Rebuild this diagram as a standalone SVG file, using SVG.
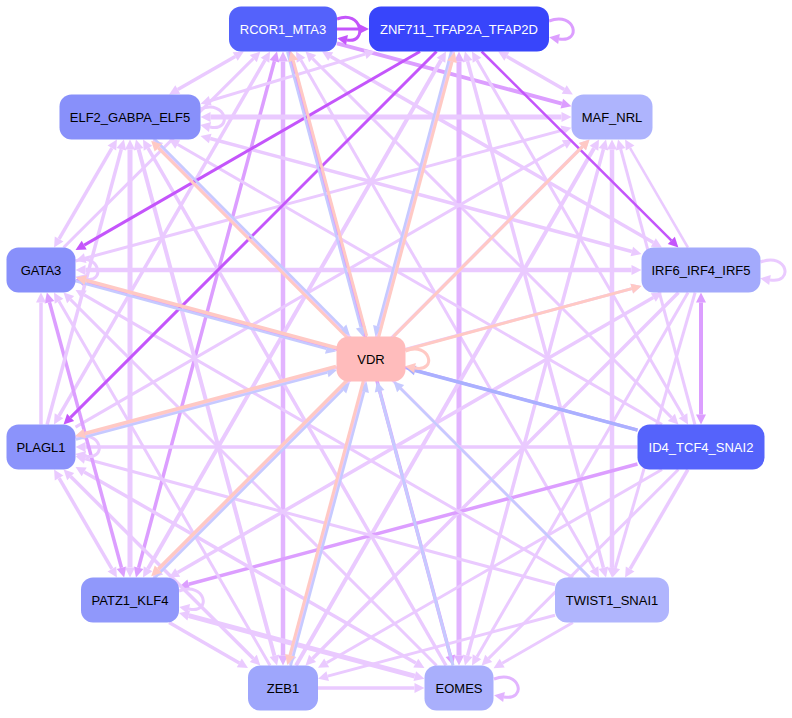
<svg xmlns="http://www.w3.org/2000/svg" width="792" height="718" viewBox="0 0 792 718">
<style>
.e{fill:none;stroke-linecap:butt}
.L{stroke:#eacaff}.LM{stroke:#e2b4ff}.M{stroke:#dc9eff}.D{stroke:#c455fb}.P{stroke:#ffc9c4}.B{stroke:#c6caff}.B2{stroke:#aab0ff}
.n text{font-family:"Liberation Sans",Arial,Helvetica,sans-serif;font-size:13px;text-anchor:middle}
.dk text{fill:#ffffff}.lt text{fill:#000000}
</style>
<defs>
<marker id="aL" markerUnits="userSpaceOnUse" orient="auto-start-reverse" refX="0" refY="0" markerWidth="12" markerHeight="12" overflow="visible"><path d="M0,-5L10,0L0,5z" fill="#eacaff"/></marker>
<marker id="aLM" markerUnits="userSpaceOnUse" orient="auto-start-reverse" refX="0" refY="0" markerWidth="12" markerHeight="12" overflow="visible"><path d="M0,-5L10,0L0,5z" fill="#e2b4ff"/></marker>
<marker id="aM" markerUnits="userSpaceOnUse" orient="auto-start-reverse" refX="0" refY="0" markerWidth="12" markerHeight="12" overflow="visible"><path d="M0,-5L10,0L0,5z" fill="#dc9eff"/></marker>
<marker id="aD" markerUnits="userSpaceOnUse" orient="auto-start-reverse" refX="0" refY="0" markerWidth="12" markerHeight="12" overflow="visible"><path d="M0,-5L10,0L0,5z" fill="#c455fb"/></marker>
<marker id="aP" markerUnits="userSpaceOnUse" orient="auto-start-reverse" refX="0" refY="0" markerWidth="12" markerHeight="12" overflow="visible"><path d="M0,-5L10,0L0,5z" fill="#ffc9c4"/></marker>
<marker id="aB" markerUnits="userSpaceOnUse" orient="auto-start-reverse" refX="0" refY="0" markerWidth="12" markerHeight="12" overflow="visible"><path d="M0,-5L10,0L0,5z" fill="#c6caff"/></marker>
<marker id="aB2" markerUnits="userSpaceOnUse" orient="auto-start-reverse" refX="0" refY="0" markerWidth="12" markerHeight="12" overflow="visible"><path d="M0,-5L10,0L0,5z" fill="#aab0ff"/></marker>
</defs>
<rect width="792" height="718" fill="#ffffff"/>
<g id="edges">
<line class="e M" stroke-width="4" x1="337" y1="43.4" x2="561.8" y2="103.6" marker-end="url(#aM)"/>
<line class="e L" stroke-width="3.5" x1="330.7" y1="56.5" x2="653.3" y2="242.5" marker-start="url(#aL)" marker-end="url(#aL)"/>
<line class="e L" stroke-width="3" x1="312.6" y1="58.6" x2="671.4" y2="417.4" marker-start="url(#aL)" marker-end="url(#aL)"/>
<line class="e L" stroke-width="3" x1="301" y1="60.2" x2="594" y2="568.8" marker-start="url(#aL)" marker-end="url(#aL)"/>
<line class="e M" stroke-width="3.5" x1="289" y1="51.5" x2="450.4" y2="655.8" marker-end="url(#aM)"/>
<line class="e LM" stroke-width="4.5" x1="283" y1="61.5" x2="283" y2="655.5" marker-start="url(#aLM)" marker-end="url(#aLM)"/>
<line class="e M" stroke-width="3.5" x1="274.4" y1="61.2" x2="138.6" y2="567.8" marker-start="url(#aM)" marker-end="url(#aM)"/>
<line class="e L" stroke-width="3.5" x1="265" y1="60.2" x2="59" y2="415.8" marker-start="url(#aL)" marker-end="url(#aL)"/>
<line class="e L" stroke-width="3" x1="253.3" y1="58.6" x2="63.6" y2="247.5" marker-start="url(#aL)"/>
<line class="e L" stroke-width="3.5" x1="235.2" y1="56.5" x2="177.8" y2="89.5" marker-start="url(#aL)" marker-end="url(#aL)"/>
<line class="e L" stroke-width="3.5" x1="506.8" y1="56.5" x2="564.2" y2="89.5" marker-start="url(#aL)" marker-end="url(#aL)"/>
<line class="e L" stroke-width="3" x1="477" y1="60.2" x2="683" y2="415.8" marker-start="url(#aL)" marker-end="url(#aL)"/>
<line class="e L" stroke-width="3.5" x1="467.6" y1="61.2" x2="603.4" y2="567.8" marker-start="url(#aL)" marker-end="url(#aL)"/>
<line class="e LM" stroke-width="5" x1="459" y1="61.5" x2="459" y2="655.5" marker-start="url(#aLM)" marker-end="url(#aLM)"/>
<line class="e L" stroke-width="3.5" x1="453" y1="51.5" x2="291.6" y2="655.8" marker-end="url(#aL)"/>
<line class="e L" stroke-width="4" x1="441" y1="60.2" x2="148" y2="568.8" marker-start="url(#aL)" marker-end="url(#aL)"/>
<line class="e L" stroke-width="3" x1="365.1" y1="54.1" x2="210.2" y2="100.8" marker-start="url(#aL)" marker-end="url(#aL)"/>
<line class="e L" stroke-width="2.5" x1="630.1" y1="148.1" x2="687.9" y2="247.5" marker-start="url(#aL)"/>
<line class="e L" stroke-width="3" x1="620.7" y1="149.2" x2="694.9" y2="424.5" marker-start="url(#aL)"/>
<line class="e L" stroke-width="4.5" x1="612" y1="149.5" x2="612" y2="567.5" marker-start="url(#aL)" marker-end="url(#aL)"/>
<line class="e L" stroke-width="3.5" x1="603.4" y1="149.2" x2="467.6" y2="655.8" marker-start="url(#aL)" marker-end="url(#aL)"/>
<line class="e L" stroke-width="4" x1="594" y1="148.2" x2="296" y2="665.5" marker-start="url(#aL)"/>
<line class="e L" stroke-width="3.5" x1="582.4" y1="146.6" x2="159.6" y2="570.9" marker-start="url(#aL)" marker-end="url(#aL)"/>
<line class="e L" stroke-width="3" x1="564.3" y1="144.5" x2="75.5" y2="427.1" marker-start="url(#aL)"/>
<line class="e L" stroke-width="3" x1="561.8" y1="130.4" x2="85.2" y2="258.2" marker-start="url(#aL)" marker-end="url(#aL)"/>
<line class="e L" stroke-width="5" x1="561.5" y1="117" x2="210.5" y2="117" marker-start="url(#aL)" marker-end="url(#aL)"/>
<line class="e M" stroke-width="4" x1="701" y1="302.5" x2="701" y2="414.5" marker-start="url(#aM)" marker-end="url(#aM)"/>
<line class="e L" stroke-width="3" x1="695.1" y1="292.5" x2="615.3" y2="567.8" marker-end="url(#aL)"/>
<line class="e L" stroke-width="3" x1="688" y1="292.5" x2="477" y2="656.8" marker-end="url(#aL)"/>
<line class="e L" stroke-width="3.5" x1="678.5" y1="292.5" x2="312.6" y2="658.4" marker-end="url(#aL)"/>
<line class="e L" stroke-width="3.5" x1="653.3" y1="297.5" x2="177.7" y2="572.5" marker-start="url(#aL)" marker-end="url(#aL)"/>
<line class="e L" stroke-width="3" x1="631.8" y1="288.6" x2="85.2" y2="435.2" marker-start="url(#aL)" marker-end="url(#aL)"/>
<line class="e L" stroke-width="4.5" x1="631.5" y1="270" x2="85.5" y2="270" marker-start="url(#aL)" marker-end="url(#aL)"/>
<line class="e L" stroke-width="3.5" x1="631.8" y1="251.5" x2="210.2" y2="138.5" marker-start="url(#aL)" marker-end="url(#aL)"/>
<line class="e L" stroke-width="3.5" x1="687.9" y1="469.5" x2="630.1" y2="568.9" marker-end="url(#aL)"/>
<line class="e L" stroke-width="3" x1="678.4" y1="469.5" x2="488.7" y2="658.4" marker-end="url(#aL)"/>
<line class="e L" stroke-width="3" x1="662" y1="469.5" x2="326.7" y2="662.8" marker-end="url(#aL)"/>
<line class="e M" stroke-width="3.5" x1="637.5" y1="464" x2="188.7" y2="584.3" marker-end="url(#aM)"/>
<line class="e L" stroke-width="3.5" x1="637.5" y1="447" x2="85.5" y2="447" marker-end="url(#aL)"/>
<line class="e M" stroke-width="3" x1="637.5" y1="430" x2="85.2" y2="281.8" marker-end="url(#aM)"/>
<line class="e L" stroke-width="3" x1="662" y1="424.5" x2="177.7" y2="144.5" marker-end="url(#aL)"/>
<line class="e L" stroke-width="3" x1="572.9" y1="622.5" x2="502.2" y2="663.2" marker-end="url(#aL)"/>
<line class="e L" stroke-width="3" x1="555" y1="615.2" x2="327.7" y2="676.1" marker-end="url(#aL)"/>
<line class="e L" stroke-width="3" x1="555" y1="584.7" x2="85.2" y2="458.8" marker-end="url(#aL)"/>
<line class="e L" stroke-width="3" x1="573" y1="577.5" x2="84.2" y2="294.9" marker-end="url(#aL)"/>
<line class="e L" stroke-width="3" x1="589.5" y1="577.5" x2="159.6" y2="146.6" marker-end="url(#aL)"/>
<line class="e L" stroke-width="3.5" x1="318" y1="688" x2="414.5" y2="688" marker-end="url(#aL)"/>
<line class="e L" stroke-width="5" x1="414.8" y1="676.2" x2="188.7" y2="615.7" marker-start="url(#aL)" marker-end="url(#aL)"/>
<line class="e L" stroke-width="3.5" x1="415.8" y1="663.1" x2="84.2" y2="471.9" marker-start="url(#aL)" marker-end="url(#aL)"/>
<line class="e L" stroke-width="3" x1="436.5" y1="665.5" x2="70.6" y2="299.6" marker-end="url(#aL)"/>
<line class="e L" stroke-width="3.5" x1="446" y1="665.5" x2="148" y2="148.2" marker-end="url(#aL)"/>
<line class="e L" stroke-width="3.5" x1="239.3" y1="662.9" x2="169.1" y2="622.5" marker-start="url(#aL)"/>
<line class="e L" stroke-width="3.5" x1="253.3" y1="658.4" x2="70.7" y2="476.6" marker-start="url(#aL)" marker-end="url(#aL)"/>
<line class="e L" stroke-width="3" x1="270" y1="665.5" x2="59" y2="301.2" marker-end="url(#aL)"/>
<line class="e L" stroke-width="4" x1="274.4" y1="655.8" x2="138.6" y2="149.2" marker-start="url(#aL)" marker-end="url(#aL)"/>
<line class="e L" stroke-width="3.5" x1="111.9" y1="568.9" x2="59.1" y2="478.1" marker-start="url(#aL)" marker-end="url(#aL)"/>
<line class="e M" stroke-width="3.5" x1="121.5" y1="567.8" x2="49.5" y2="302.2" marker-start="url(#aM)" marker-end="url(#aM)"/>
<line class="e L" stroke-width="5" x1="130" y1="567.5" x2="130" y2="149.5" marker-start="url(#aL)" marker-end="url(#aL)"/>
<line class="e L" stroke-width="3.5" x1="41" y1="424.5" x2="41" y2="302.5" marker-end="url(#aL)"/>
<line class="e L" stroke-width="3.5" x1="47.1" y1="424.5" x2="121.3" y2="149.2" marker-end="url(#aL)"/>
<line class="e L" stroke-width="3.5" x1="111.9" y1="148.1" x2="59.1" y2="238.9" marker-start="url(#aL)" marker-end="url(#aL)"/>
<line class="e D" stroke-width="2.5" x1="481.6" y1="51.5" x2="671.3" y2="240.4" marker-end="url(#aD)"/>
<line class="e D" stroke-width="3" x1="436.5" y1="51.5" x2="70.6" y2="417.4" marker-end="url(#aD)"/>
<line class="e D" stroke-width="3" x1="420" y1="51.5" x2="84.2" y2="245.1" marker-end="url(#aD)"/>
<path class="e D" stroke-width="3" d="M337,19 C362,9 368,44 347,40" marker-end="url(#aD)"/>
<line class="e D" stroke-width="3" x1="337" y1="29" x2="359" y2="29" marker-end="url(#aD)"/>
<path class="e M" stroke-width="3" d="M549,21 C576,11 582,43 559,39" marker-end="url(#aM)"/>
<path class="e L" stroke-width="3" d="M760.5,262 C788,252 794,284 770,280" marker-end="url(#aL)"/>
<path class="e LM" stroke-width="3" d="M494,679 C521,669 527,701 504,697" marker-end="url(#aLM)"/>
<path class="e L" stroke-width="3" d="M179,591 C206,581 212,614 189,609" marker-end="url(#aL)"/>
<path class="e L" stroke-width="3" d="M75.5,438 C102,428 108,461 85,456" marker-end="url(#aL)"/>
<path class="e L" stroke-width="3" d="M75.5,261 C100,252 106,284 85,279" marker-end="url(#aL)"/>
<path class="e L" stroke-width="3" d="M200.5,109 C227,99 233,132 210,127" marker-end="url(#aL)"/>
<line class="e B" stroke-width="2.5" x1="287.3" y1="52" x2="360.7" y2="327.3" marker-end="url(#aB)"/>
<line class="e P" stroke-width="3" x1="366.7" y1="336" x2="293.3" y2="60.7" marker-end="url(#aP)"/>
<line class="e B" stroke-width="2.5" x1="451.3" y1="51" x2="377.9" y2="326.3" marker-end="url(#aB)"/>
<line class="e P" stroke-width="3" x1="378.7" y1="337" x2="452.1" y2="61.7" marker-end="url(#aP)"/>
<line class="e P" stroke-width="3" x1="393.4" y1="336.5" x2="582.5" y2="146.6" marker-end="url(#aP)"/>
<line class="e P" stroke-width="3" x1="405.5" y1="349.7" x2="631.8" y2="288.6" marker-end="url(#aP)"/>
<line class="e B2" stroke-width="3.5" x1="637.5" y1="430.1" x2="415.2" y2="370.5" marker-end="url(#aB2)"/>
<line class="e B" stroke-width="2.5" x1="589.5" y1="577.5" x2="400.6" y2="388.6" marker-end="url(#aB)"/>
<line class="e B" stroke-width="3" x1="453" y1="665.5" x2="379.6" y2="391.2" marker-end="url(#aB)"/>
<line class="e B" stroke-width="2.5" x1="290.7" y1="666" x2="364.1" y2="391.7" marker-end="url(#aB)"/>
<line class="e P" stroke-width="3" x1="363.3" y1="381" x2="289.9" y2="655.3" marker-end="url(#aP)"/>
<line class="e B" stroke-width="2.5" x1="153.8" y1="578.8" x2="342.7" y2="389.9" marker-end="url(#aB)"/>
<line class="e P" stroke-width="3.5" x1="347.2" y1="380.2" x2="158.3" y2="569.1" marker-end="url(#aP)"/>
<line class="e B" stroke-width="2.5" x1="76" y1="439.5" x2="327.3" y2="372.5" marker-end="url(#aB)"/>
<line class="e P" stroke-width="3.5" x1="336" y1="366.5" x2="84.7" y2="433.5" marker-end="url(#aP)"/>
<line class="e B" stroke-width="2.5" x1="75" y1="281" x2="326.3" y2="348.8" marker-end="url(#aB)"/>
<line class="e P" stroke-width="3.5" x1="337" y1="348" x2="85.7" y2="280.2" marker-end="url(#aP)"/>
<line class="e B" stroke-width="2.5" x1="153.7" y1="138.2" x2="342.8" y2="328.1" marker-end="url(#aB)"/>
<line class="e P" stroke-width="3" x1="347.3" y1="337.8" x2="158.2" y2="147.9" marker-end="url(#aP)"/>
<path class="e P" stroke-width="3" d="M405.5,351 C430,341 438,372 415,368" marker-end="url(#aP)"/>
</g>
<g id="node-RCOR1_MTA3" class="n dk"><rect x="229" y="6.5" width="108" height="45" rx="12" fill="#5462fb"/><text x="283" y="33.5">RCOR1_MTA3</text></g>
<g id="node-ZNF711_TFAP2A_TFAP2D" class="n dk"><rect x="369" y="6.5" width="180" height="45" rx="12" fill="#3845fb"/><text x="459" y="33.5">ZNF711_TFAP2A_TFAP2D</text></g>
<g id="node-MAF_NRL" class="n lt"><rect x="571.5" y="94.5" width="81" height="45" rx="12" fill="#aeb4fd"/><text x="612" y="121.5">MAF_NRL</text></g>
<g id="node-IRF6_IRF4_IRF5" class="n lt"><rect x="641.5" y="247.5" width="119" height="45" rx="12" fill="#a3aafc"/><text x="701" y="274.5">IRF6_IRF4_IRF5</text></g>
<g id="node-ID4_TCF4_SNAI2" class="n dk"><rect x="637.5" y="424.5" width="127" height="45" rx="12" fill="#5563fb"/><text x="701" y="451.5">ID4_TCF4_SNAI2</text></g>
<g id="node-TWIST1_SNAI1" class="n lt"><rect x="555" y="577.5" width="114" height="45" rx="12" fill="#b0b5fd"/><text x="612" y="604.5">TWIST1_SNAI1</text></g>
<g id="node-EOMES" class="n lt"><rect x="424.5" y="665.5" width="69" height="45" rx="12" fill="#a9affc"/><text x="459" y="692.5">EOMES</text></g>
<g id="node-ZEB1" class="n lt"><rect x="248" y="665.5" width="70" height="45" rx="12" fill="#9ea6fc"/><text x="283" y="692.5">ZEB1</text></g>
<g id="node-PATZ1_KLF4" class="n lt"><rect x="81" y="577.5" width="98" height="45" rx="12" fill="#9098fb"/><text x="130" y="604.5">PATZ1_KLF4</text></g>
<g id="node-PLAGL1" class="n lt"><rect x="6.5" y="424.5" width="69" height="45" rx="12" fill="#8b93fb"/><text x="41" y="451.5">PLAGL1</text></g>
<g id="node-GATA3" class="n lt"><rect x="6.5" y="247.5" width="69" height="45" rx="12" fill="#8890fb"/><text x="41" y="274.5">GATA3</text></g>
<g id="node-ELF2_GABPA_ELF5" class="n lt"><rect x="59.5" y="94.5" width="141" height="45" rx="12" fill="#8890fa"/><text x="130" y="121.5">ELF2_GABPA_ELF5</text></g>
<g id="node-VDR" class="n lt"><rect x="336.5" y="336.5" width="69" height="45" rx="12" fill="#ffbcbc"/><text x="371" y="363.5">VDR</text></g>
</svg>
